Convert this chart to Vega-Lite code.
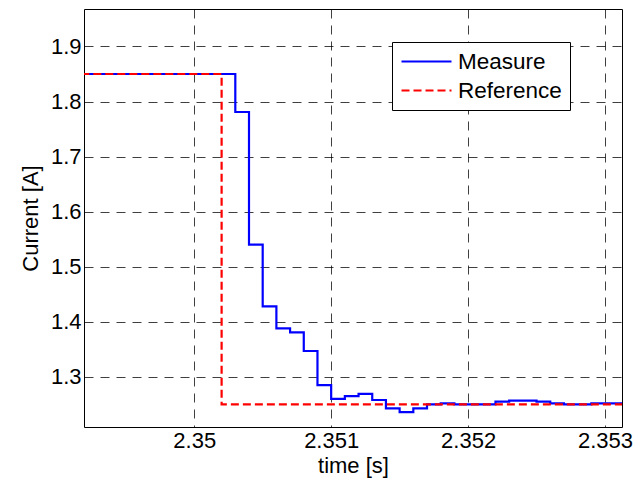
{
  "$schema": "https://vega.github.io/schema/vega-lite/v6.json",
  "width": 538,
  "height": 418,
  "autosize": {"type": "none"},
  "padding": {"left": 84, "top": 9, "right": 15, "bottom": 64},
  "background": "white",
  "config": {
    "view": {"stroke": "black", "strokeWidth": 1},
    "font": "Liberation Sans",
    "axis": {
      "labelFontSize": 22,
      "titleFontSize": 22,
      "labelColor": "black",
      "titleColor": "black",
      "titleFontWeight": "normal",
      "ticks": false,
      "domain": false,
      "gridColor": "black",
      "gridDash": [9, 7],
      "gridOpacity": 0.75,
      "gridWidth": 1
    },
    "legend": {
      "symbolType": "M-1,0H4",
      "symbolSize": 400,
      "symbolStrokeWidth": 2.2,
      "labelFontSize": 22.5,
      "labelColor": "black",
      "labelOffset": 35,
      "padding": 8,
      "strokeColor": "black",
      "fillColor": "white",
      "cornerRadius": 0,
      "rowPadding": 6
    }
  },
  "data": {
    "values": [
      {"t": 2.3490, "v": 1.85, "s": "Measure"},
      {"t": 2.3503, "v": 1.781, "s": "Measure"},
      {"t": 2.3504, "v": 1.54, "s": "Measure"},
      {"t": 2.3505, "v": 1.428, "s": "Measure"},
      {"t": 2.3506, "v": 1.388, "s": "Measure"},
      {"t": 2.3507, "v": 1.381, "s": "Measure"},
      {"t": 2.3508, "v": 1.347, "s": "Measure"},
      {"t": 2.3509, "v": 1.285, "s": "Measure"},
      {"t": 2.3510, "v": 1.260, "s": "Measure"},
      {"t": 2.3511, "v": 1.265, "s": "Measure"},
      {"t": 2.3512, "v": 1.269, "s": "Measure"},
      {"t": 2.3513, "v": 1.258, "s": "Measure"},
      {"t": 2.3514, "v": 1.243, "s": "Measure"},
      {"t": 2.3515, "v": 1.236, "s": "Measure"},
      {"t": 2.3516, "v": 1.243, "s": "Measure"},
      {"t": 2.3517, "v": 1.250, "s": "Measure"},
      {"t": 2.3518, "v": 1.252, "s": "Measure"},
      {"t": 2.3519, "v": 1.250, "s": "Measure"},
      {"t": 2.3522, "v": 1.255, "s": "Measure"},
      {"t": 2.3523, "v": 1.257, "s": "Measure"},
      {"t": 2.3525, "v": 1.255, "s": "Measure"},
      {"t": 2.3526, "v": 1.252, "s": "Measure"},
      {"t": 2.3527, "v": 1.250, "s": "Measure"},
      {"t": 2.3529, "v": 1.252, "s": "Measure"},
      {"t": 2.3533, "v": 1.252, "s": "Measure"},
      {"t": 2.3490, "v": 1.85, "s": "Reference"},
      {"t": 2.3502, "v": 1.25, "s": "Reference"},
      {"t": 2.3533, "v": 1.25, "s": "Reference"}
    ]
  },
  "mark": {"type": "line", "interpolate": "step-after", "strokeWidth": 2.2, "clip": true},
  "encoding": {
    "x": {
      "field": "t",
      "type": "quantitative",
      "scale": {"domain": [2.349195, 2.353124], "nice": false, "zero": false},
      "axis": {"values": [2.35, 2.351, 2.352, 2.353], "format": ".6~g", "title": "time [s]", "labelPadding": 3, "titlePadding": 4}
    },
    "y": {
      "field": "v",
      "type": "quantitative",
      "scale": {"domain": [1.209, 1.968], "nice": false, "zero": false},
      "axis": {"values": [1.3, 1.4, 1.5, 1.6, 1.7, 1.8, 1.9], "format": ".1f", "title": "Current [A]", "labelPadding": 3, "titlePadding": 8}
    },
    "color": {
      "field": "s",
      "type": "nominal",
      "scale": {"domain": ["Measure", "Reference"], "range": ["#0000ff", "#ff0000"]},
      "legend": {"title": null, "orient": "none", "legendX": 308, "legendY": 33}
    },
    "strokeDash": {
      "field": "s",
      "type": "nominal",
      "scale": {"domain": ["Measure", "Reference"], "range": [[1, 0], [8, 4]]},
      "legend": {"title": null, "orient": "none", "legendX": 308, "legendY": 33}
    }
  }
}
